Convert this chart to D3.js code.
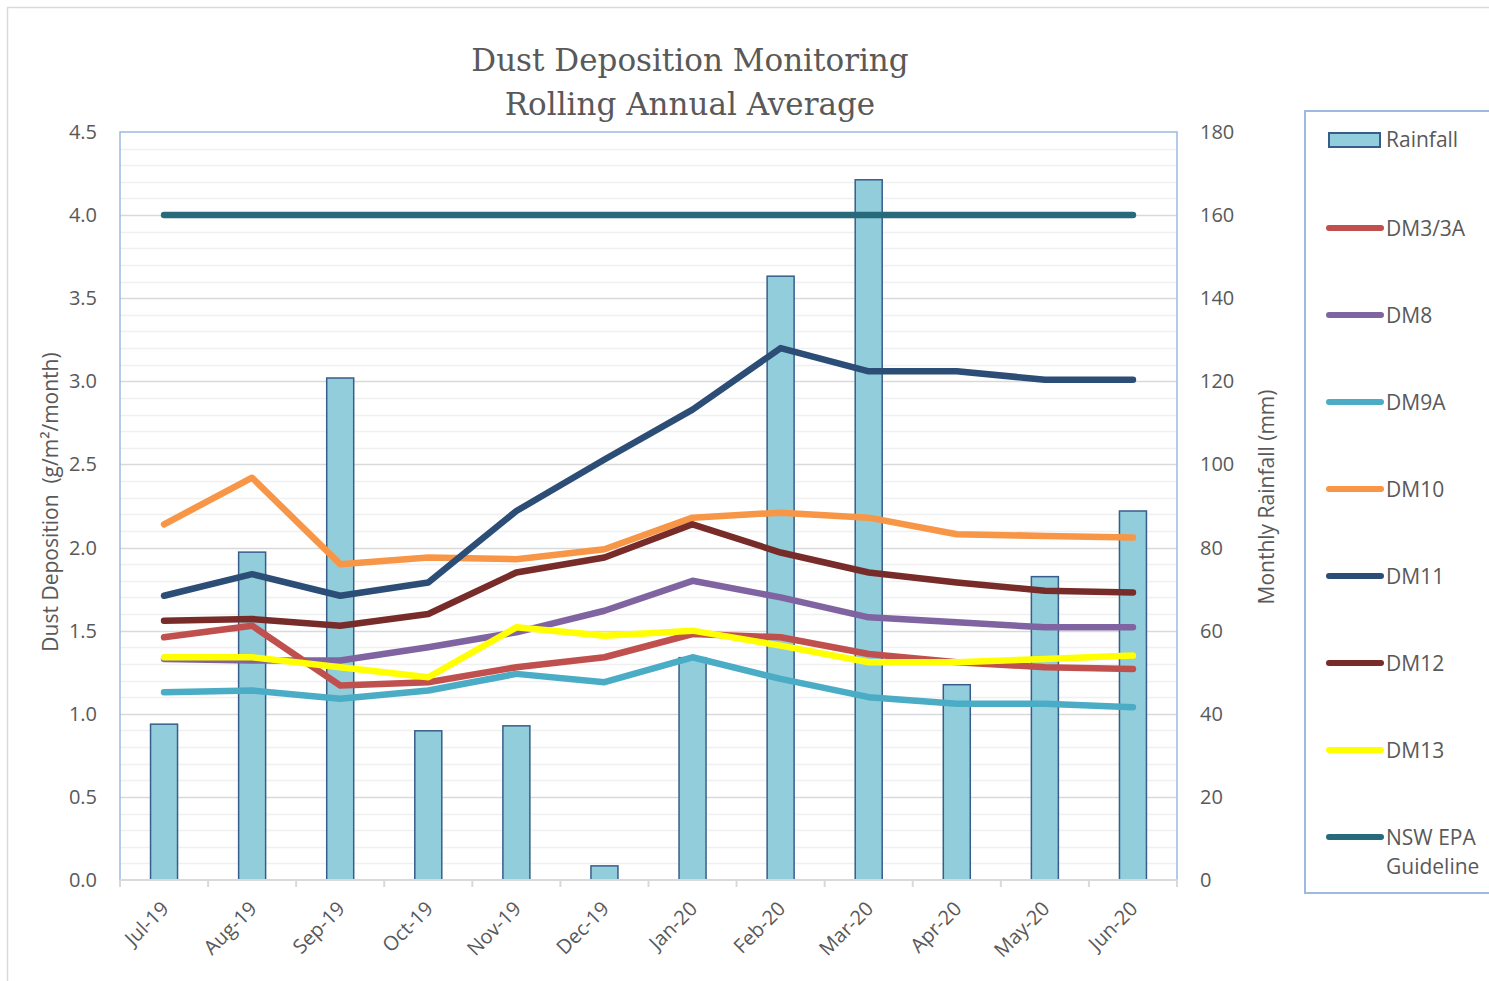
<html>
<meta charset="utf-8">
<head>
<title>Dust Deposition Monitoring</title>
<script src="https://d3js.org/d3.v7.min.js"></script>
<style>
body { margin:0; background:#fff; }
text { font-family: "Open Sans", "Noto Sans", sans-serif; fill:#595959; }
</style>
</head>
<body>
<div id="chart"></div>
<script>
var months = ['Jul-19','Aug-19','Sep-19','Oct-19','Nov-19','Dec-19','Jan-20','Feb-20','Mar-20','Apr-20','May-20','Jun-20'];
var rainfall = [37.5, 78.9, 120.8, 35.9, 37.1, 3.4, 53.5, 145.3, 168.5, 47, 73, 88.8];
var dm3 = [1.46, 1.53, 1.17, 1.19, 1.28, 1.34, 1.48, 1.46, 1.36, 1.31, 1.28, 1.27];
var dm8 = [1.33, 1.32, 1.32, 1.40, 1.49, 1.62, 1.80, 1.70, 1.58, 1.55, 1.52, 1.52];
var dm9a = [1.13, 1.14, 1.09, 1.14, 1.24, 1.19, 1.34, 1.21, 1.10, 1.06, 1.06, 1.04];
var dm10 = [2.14, 2.42, 1.90, 1.94, 1.93, 1.99, 2.18, 2.21, 2.18, 2.08, 2.07, 2.06];
var dm11 = [1.71, 1.84, 1.71, 1.79, 2.22, 2.53, 2.83, 3.20, 3.06, 3.06, 3.01, 3.01];
var dm12 = [1.56, 1.57, 1.53, 1.60, 1.85, 1.94, 2.14, 1.97, 1.85, 1.79, 1.74, 1.73];
var dm13 = [1.34, 1.34, 1.28, 1.22, 1.52, 1.47, 1.50, 1.41, 1.31, 1.31, 1.33, 1.35];
var guideline = [4, 4, 4, 4, 4, 4, 4, 4, 4, 4, 4, 4];
var leftTicks = [0, 0.5, 1, 1.5, 2, 2.5, 3, 3.5, 4, 4.5];
var rightTicks = [0, 20, 40, 60, 80, 100, 120, 140, 160, 180];

var series = [
  {name:'DM3/3A', values:dm3, color:'#C0504D'},
  {name:'DM8', values:dm8, color:'#8064A2'},
  {name:'DM9A', values:dm9a, color:'#4BACC6'},
  {name:'DM10', values:dm10, color:'#F79646'},
  {name:'DM11', values:dm11, color:'#2C4D75'},
  {name:'DM12', values:dm12, color:'#772C2A'},
  {name:'DM13', values:dm13, color:'#FFFF00'},
  {name:'NSW EPA', name2:'Guideline', values:guideline, color:'#276A7C'}
];
// draw order in the plot
var drawOrder = ['NSW EPA','DM10','DM11','DM12','DM8','DM3/3A','DM9A','DM13'];

var W = 1489, H = 981;
var pl = 120, pr = 1177, pt = 132, pb = 880;

var svg = d3.select('#chart').append('svg')
  .attr('width', W).attr('height', H);

svg.append('rect').attr('x', 7.5).attr('y', 7.5).attr('width', W + 10).attr('height', H - 4)
  .attr('fill', '#fff').attr('stroke', '#D9D9D9').attr('stroke-width', 1.5);

var x = d3.scaleBand().domain(months).range([pl, pr]);
var y = d3.scaleLinear().domain([0, 4.5]).range([pb, pt]);
var y2 = d3.scaleLinear().domain([0, 180]).range([pb, pt]);

// gridlines
var g = svg.append('g');
g.selectAll('line.minor').data(d3.range(1, 45).filter(function(i){ return i % 5 != 0; }))
  .enter().append('line')
  .attr('x1', pl).attr('x2', pr)
  .attr('y1', function(d){ return Math.round(y(d / 10)) + 0.5; })
  .attr('y2', function(d){ return Math.round(y(d / 10)) + 0.5; })
  .attr('stroke', '#F0F0F0').attr('stroke-width', 1.5);
g.selectAll('line.major').data(leftTicks.slice(1, -1))
  .enter().append('line')
  .attr('x1', pl).attr('x2', pr)
  .attr('y1', function(d){ return Math.round(y(d)) + 0.5; })
  .attr('y2', function(d){ return Math.round(y(d)) + 0.5; })
  .attr('stroke', '#D9D9D9').attr('stroke-width', 1.5);

// bars
var bw = 27;
svg.append('g').selectAll('rect').data(rainfall).enter().append('rect')
  .attr('x', function(d, i){ return x(months[i]) + x.bandwidth() / 2 - bw / 2; })
  .attr('y', function(d){ return y2(d); })
  .attr('width', bw)
  .attr('height', function(d){ return pb - y2(d); })
  .attr('fill', '#92CDDC').attr('stroke', '#385D8A').attr('stroke-width', 1.5);

// plot border
svg.append('path')
  .attr('d', 'M' + pl + ',' + pb + 'V' + pt + 'H' + pr + 'V' + pb)
  .attr('fill', 'none').attr('stroke', '#9DB9DE').attr('stroke-width', 1.5);

// x axis
var xa = svg.append('g').attr('transform', 'translate(0,' + pb + ')');
xa.append('line').attr('x1', pl).attr('x2', pr).attr('stroke', '#D9D9D9').attr('stroke-width', 2);
xa.selectAll('line.tick').data(d3.range(13)).enter().append('line')
  .attr('x1', function(i){ return pl + i * x.step(); })
  .attr('x2', function(i){ return pl + i * x.step(); })
  .attr('y1', 0).attr('y2', 7)
  .attr('stroke', '#D9D9D9').attr('stroke-width', 2);
xa.selectAll('text').data(months).enter().append('text')
  .attr('transform', function(d){ return 'translate(' + (x(d) + x.bandwidth() / 2 + 6) + ',30) rotate(-45)'; })
  .attr('text-anchor', 'end')
  .attr('font-size', 20)
  .text(function(d){ return d; });

// left ticks
svg.append('g').selectAll('text').data(leftTicks).enter().append('text')
  .attr('x', 97).attr('y', function(d){ return y(d) + 7; })
  .attr('text-anchor', 'end').attr('font-size', 20)
  .text(function(d){ return d3.format('.1f')(d); });

// right ticks
svg.append('g').selectAll('text').data(rightTicks).enter().append('text')
  .attr('x', 1200).attr('y', function(d){ return y2(d) + 7; })
  .attr('text-anchor', 'start').attr('font-size', 20)
  .text(function(d){ return d; });

// axis titles
svg.append('text').attr('transform', 'translate(58,502) rotate(-90)')
  .attr('text-anchor', 'middle').attr('font-size', 21)
  .style('white-space', 'pre')
  .text('Dust Deposition  (g/m\u00b2/month)');
svg.append('text').attr('transform', 'translate(1274,497) rotate(-90)')
  .attr('text-anchor', 'middle').attr('font-size', 21)
  .text('Monthly Rainfall (mm)');

// title
var title = svg.append('text').attr('text-anchor', 'middle')
  .style('font-family', '"DejaVu Serif", "Liberation Serif", serif').attr('font-size', 31);
title.append('tspan').attr('x', 690).attr('y', 71).text('Dust Deposition Monitoring');
title.append('tspan').attr('x', 690).attr('y', 115).text('Rolling Annual Average');

// lines
var line = d3.line()
  .x(function(d, i){ return x(months[i]) + x.bandwidth() / 2; })
  .y(function(d){ return y(d); });
var byName = {};
series.forEach(function(s){ byName[s.name] = s; });
svg.append('g').selectAll('path').data(drawOrder.map(function(n){ return byName[n]; }))
  .enter().append('path')
  .attr('d', function(s){ return line(s.values); })
  .attr('fill', 'none')
  .attr('stroke', function(s){ return s.color; })
  .attr('stroke-width', 6.5)
  .attr('stroke-linecap', 'round')
  .attr('stroke-linejoin', 'round');

// legend
var lg = svg.append('g');
lg.append('rect').attr('x', 1305).attr('y', 111).attr('width', 200).attr('height', 782)
  .attr('fill', '#fff').attr('stroke', '#9DB9DE').attr('stroke-width', 2);
lg.append('rect').attr('x', 1329).attr('y', 133).attr('width', 51).attr('height', 14)
  .attr('fill', '#92CDDC').attr('stroke', '#385D8A').attr('stroke-width', 2);
lg.append('text').attr('x', 1386).attr('y', 147).attr('font-size', 21).text('Rainfall');
var items = lg.selectAll('g.item').data(series).enter().append('g')
  .attr('transform', function(s, i){ return 'translate(0,' + (228 + i * 87) + ')'; });
items.append('line').attr('x1', 1329).attr('x2', 1381)
  .attr('stroke', function(s){ return s.color; })
  .attr('stroke-width', 6).attr('stroke-linecap', 'round');
items.append('text').attr('x', 1386).attr('y', 8).attr('font-size', 21)
  .text(function(s){ return s.name; });
items.filter(function(s){ return s.name2; }).append('text')
  .attr('x', 1386).attr('y', 37).attr('font-size', 21)
  .text(function(s){ return s.name2; });
</script>
</body>
</html>
